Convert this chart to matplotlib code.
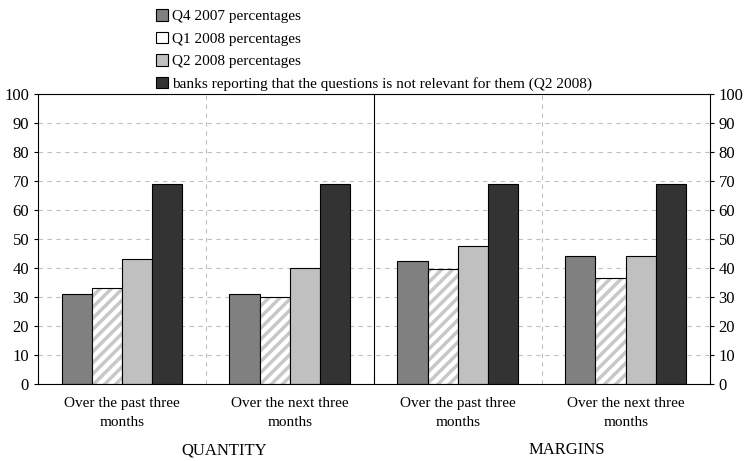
import numpy as np
import matplotlib.pyplot as plt

plt.rcParams['font.family'] = ['Liberation Serif', 'DejaVu Serif']
plt.rcParams['hatch.linewidth'] = 2.5

categories = ['Over the past three\nmonths', 'Over the next three\nmonths',
              'Over the past three\nmonths', 'Over the next three\nmonths']
q4_2007 = [31, 31, 42.5, 44]
q1_2008 = [33, 30, 39.5, 36.5]
q2_2008 = [43, 40, 47.5, 44]
not_relevant = [69, 69, 69, 69]
series_names = ['Q4 2007 percentages', 'Q1 2008 percentages', 'Q2 2008 percentages',
                'banks reporting that the questions is not relevant for them (Q2 2008)']

fig = plt.figure(figsize=(7.47, 4.61), dpi=100)
ax = fig.add_axes([0.051, 0.167, 0.899, 0.629])

x = np.arange(len(categories)) + 0.5
w = 0.18
fills = ['#808080', 'white', '#c0c0c0', '#333333']
handles = []
for i, vals in enumerate([q4_2007, q1_2008, q2_2008, not_relevant]):
    pos = x + (i - 1.5) * w
    if i == 1:
        ax.bar(pos, vals, w, color='white', edgecolor='#c8c8c8', hatch='///', linewidth=0)
        b = ax.bar(pos, vals, w, fill=False, edgecolor='black', linewidth=0.8, label=series_names[i])
    else:
        b = ax.bar(pos, vals, w, color=fills[i], edgecolor='black', linewidth=0.8, label=series_names[i])
    handles.append(b)

ax.set_xlim(0, 4)
ax.set_ylim(0, 100)
ax.set_yticks(range(0, 101, 10))
ax.yaxis.grid(True, linestyle=(0, (4, 4)), color='#c0c0c0', linewidth=0.8)
ax.set_axisbelow(True)
ax.tick_params(axis='y', labelsize=12, right=True, labelright=True, direction='out', length=3)
ax.set_xticks(x)
ax.set_xticklabels(categories, fontsize=11, linespacing=1.6)
ax.tick_params(axis='x', length=0, pad=9)
for s in ax.spines.values():
    s.set_linewidth(0.8)

ax.axvline(1, color='#c0c0c0', linestyle=(0, (4, 4)), linewidth=0.8)
ax.axvline(3, color='#c0c0c0', linestyle=(0, (4, 4)), linewidth=0.8)
ax.axvline(2, color='black', linewidth=0.8)

ax.text(1.11, -0.2, 'QUANTITY', transform=ax.get_xaxis_transform(), ha='center', va='top', fontsize=12)
ax.text(3.15, -0.2, 'MARGINS', transform=ax.get_xaxis_transform(), ha='center', va='top', fontsize=12)

fig.legend(handles=handles, loc='upper left', bbox_to_anchor=(0.19, 1.01), frameon=False,
           fontsize=11, handlelength=0.8, handleheight=0.8, handletextpad=0.3, labelspacing=0.55)

fig.savefig('out.png', dpi=100)
